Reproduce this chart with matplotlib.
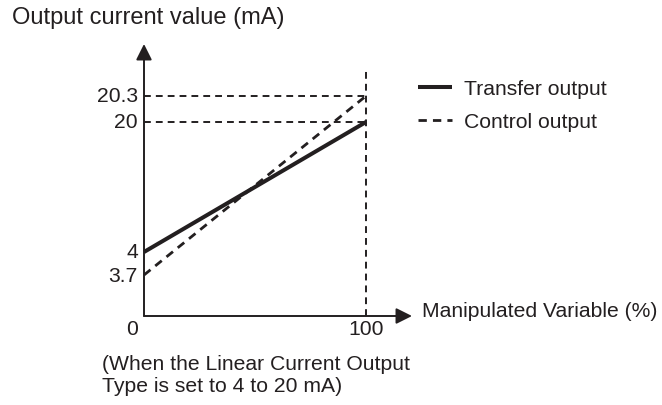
import numpy as np
import matplotlib
matplotlib.use("Agg")
import matplotlib.pyplot as plt

plt.rcParams["font.family"] = ["Liberation Sans", "DejaVu Sans"]
INK = "#231f20"

# output characteristics: manipulated variable (%) -> current (mA)
mv = [0, 100]
transfer_ma = [4, 20]
control_ma = [3.7, 20.3]
y_ticks = [3.7, 4, 20, 20.3]
y_ticklabels = ["3.7", "4", "20", "20.3"]
x_ticks = [0, 100]
x_ticklabels = ["0", "100"]

# schematic (not to scale) vertical axis: spread the 3.7/4 and 20/20.3 pairs apart
Y_DATA = np.array([0, 3.7, 4, 20, 20.3, 23.5])
Y_POS = np.array([0, 41, 64, 194, 220, 272], dtype=float)


def fwd(v):
    return np.interp(v, Y_DATA, Y_POS)


def inv(p):
    return np.interp(p, Y_POS, Y_DATA)


W, H = 662, 406
fig = plt.figure(figsize=(W / 100, H / 100), dpi=100)
x0, x100, y_base = 144, 366, 317
x_end = 100 * (412 - x0) / (x100 - x0)
ax = fig.add_axes([x0 / W, (H - y_base) / H, (412 - x0) / W, 272 / H])
ax.set_yscale("function", functions=(fwd, inv))
ax.set_xlim(0, x_end)
ax.set_ylim(0, 23.5)
ax.axis("off")

dash = (0, (3.5, 2.6))
# guide lines
for v in (20, 20.3):
    ax.plot([0, 100], [v, v], color=INK, lw=1.4, ls=dash, clip_on=False)
ax.plot([100, 100], [0, 21.9], color=INK, lw=1.4, ls=dash, clip_on=False)

l_ctrl, = ax.plot(mv, control_ma, color=INK, lw=2.0, ls=(0, (3.0, 2.2)),
                  label="Control output", clip_on=False)
l_tr, = ax.plot(mv, transfer_ma, color=INK, lw=2.9, solid_capstyle="butt",
                label="Transfer output", clip_on=False)

# axes with arrowheads
arrow = dict(arrowstyle="-|>", color=INK, lw=1.4, mutation_scale=24,
             shrinkA=0, shrinkB=0)
ax.annotate("", xy=(x_end, 0), xytext=(0, 0), arrowprops=arrow, annotation_clip=False)
ax.annotate("", xy=(0, 23.5), xytext=(0, 0), arrowprops=arrow, annotation_clip=False)

fs = 15.2
for v, lab in zip(y_ticks, y_ticklabels):
    ax.annotate(lab, xy=(0, v), xytext=(-6, 0), textcoords="offset pixels",
                ha="right", va="center", fontsize=fs, color=INK, annotation_clip=False)
for v, lab in zip(x_ticks, x_ticklabels):
    dx = -12 if v == 0 else 0
    ax.annotate(lab, xy=(v, 0), xytext=(dx, -13), textcoords="offset pixels",
                ha="center", va="center", fontsize=fs, color=INK, annotation_clip=False)

fig.text(12 / W, 1 - 18 / H, "Output current value (mA)", fontsize=17,
         color=INK, ha="left", va="center")
fig.text(422 / W, 1 - 312 / H, "Manipulated Variable (%)", fontsize=fs,
         color=INK, ha="left", va="center")
fig.text(102 / W, 1 - 376 / H,
         "(When the Linear Current Output\nType is set to 4 to 20 mA)",
         fontsize=fs, color=INK, ha="left", va="center", linespacing=1.2)

ax.legend(handles=[l_tr, l_ctrl], loc="upper left",
          bbox_to_anchor=(418 / W, 1 - 80 / H), bbox_transform=fig.transFigure,
          frameon=False, fontsize=fs, handlelength=1.6, handletextpad=0.6,
          labelspacing=0.68, borderpad=0, borderaxespad=0, labelcolor=INK)

fig.savefig("out.png", dpi=100)
